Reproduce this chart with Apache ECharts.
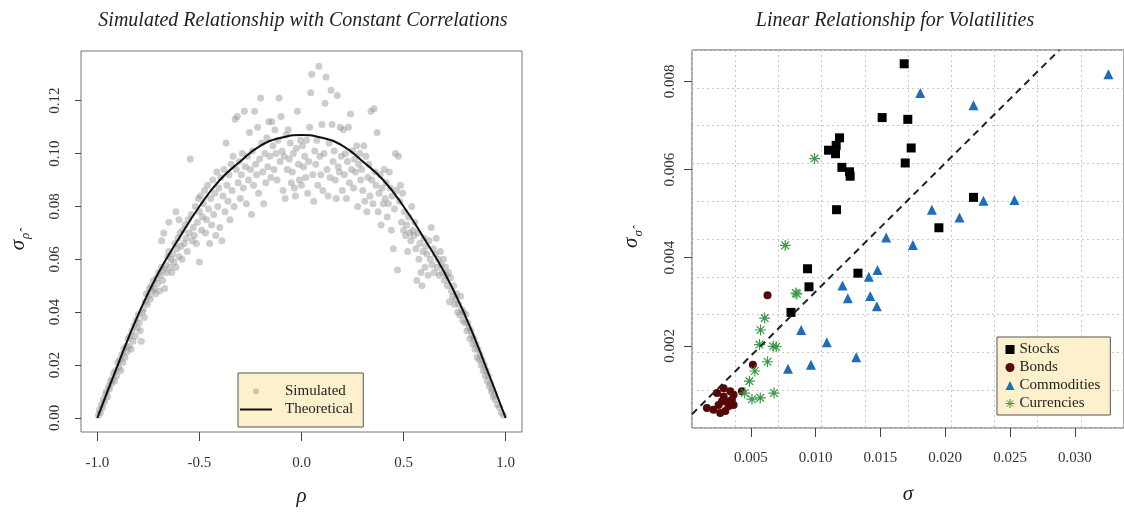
<!DOCTYPE html>
<html>
<head>
<meta charset="utf-8">
<script src="https://cdn.jsdelivr.net/npm/echarts@6/dist/echarts.min.js"></script>
<style>
  html, body { margin: 0; padding: 0; background: #fff; }
  #main { width: 1124px; height: 512px; }
</style>
</head>
<body>
<div id="main"></div>
<script>
// left panel: simulated [rho, sigma] pairs
var simulated = [
  [-0.995,0.001],[-0.99,0.003],[-0.985,0.002],[-0.98,0.005],[-0.975,0.004],[-0.97,0.007],[-0.965,0.006],[-0.96,0.009],
  [-0.955,0.010],[-0.95,0.008],[-0.945,0.012],[-0.94,0.011],[-0.935,0.014],[-0.93,0.013],[-0.925,0.015],[-0.92,0.017],
  [-0.915,0.014],[-0.91,0.018],[-0.905,0.016],[-0.9,0.021],[-0.895,0.019],[-0.89,0.022],[-0.885,0.018],[-0.88,0.024],
  [-0.875,0.021],[-0.87,0.026],[-0.865,0.023],[-0.86,0.027],[-0.855,0.025],[-0.85,0.030],[-0.845,0.027],[-0.84,0.031],
  [-0.835,0.026],[-0.83,0.033],[-0.825,0.029],[-0.82,0.035],[-0.815,0.031],[-0.81,0.037],[-0.805,0.034],[-0.8,0.039],
  [-0.795,0.036],[-0.79,0.033],[-0.785,0.029],[-0.78,0.040],
  [-0.775,0.041],[-0.77,0.038],[-0.765,0.044],[-0.76,0.047],[-0.755,0.043],[-0.75,0.046],[-0.745,0.049],[-0.74,0.045],
  [-0.735,0.050],[-0.73,0.048],[-0.725,0.052],[-0.72,0.049],[-0.715,0.047],[-0.71,0.053],[-0.705,0.051],[-0.70,0.055],
  [-0.695,0.048],[-0.69,0.054],[-0.685,0.057],[-0.68,0.052],[-0.675,0.056],[-0.67,0.049],[-0.665,0.058],[-0.66,0.055],
  [-0.655,0.061],[-0.65,0.063],[-0.645,0.057],[-0.64,0.060],[-0.635,0.055],[-0.63,0.062],[-0.625,0.059],[-0.62,0.066],
  [-0.615,0.057],[-0.61,0.064],[-0.605,0.068],[-0.60,0.061],[-0.595,0.070],[-0.59,0.065],[-0.585,0.060],[-0.58,0.071],
  [-0.575,0.066],[-0.57,0.073],[-0.565,0.068],[-0.56,0.063],[-0.555,0.075],[-0.55,0.070],[-0.545,0.098],[-0.54,0.077],
  [-0.535,0.067],[-0.53,0.072],[-0.525,0.069],[-0.52,0.080],[-0.515,0.066],[-0.51,0.074],[-0.505,0.083],[-0.50,0.059],
  [-0.50,0.078],[-0.685,0.067],[-0.675,0.070],[-0.65,0.074],[-0.615,0.078],[-0.6,0.075],
  [-0.495,0.084],[-0.49,0.071],[-0.485,0.076],[-0.48,0.081],[-0.475,0.086],[-0.47,0.070],[-0.465,0.075],[-0.46,0.088],
  [-0.455,0.079],[-0.45,0.066],[-0.445,0.083],[-0.44,0.073],[-0.435,0.090],[-0.43,0.077],[-0.425,0.085],[-0.42,0.069],
  [-0.415,0.093],[-0.41,0.080],[-0.405,0.087],[-0.40,0.072],[-0.395,0.091],[-0.39,0.067],[-0.385,0.084],[-0.38,0.094],
  [-0.375,0.078],[-0.37,0.104],[-0.365,0.088],[-0.36,0.082],[-0.355,0.092],[-0.35,0.075],[-0.345,0.096],[-0.34,0.086],
  [-0.335,0.099],[-0.33,0.080],[-0.325,0.113],[-0.32,0.094],[-0.315,0.114],[-0.31,0.089],[-0.305,0.097],[-0.30,0.083],
  [-0.295,0.092],[-0.29,0.100],[-0.285,0.087],[-0.28,0.116],[-0.275,0.095],[-0.27,0.081],[-0.265,0.099],[-0.26,0.090],
  [-0.255,0.108],[-0.25,0.094],[-0.245,0.077],[-0.24,0.101],[-0.235,0.088],[-0.23,0.116],[-0.225,0.096],[-0.22,0.092],
  [-0.215,0.110],[-0.21,0.085],[-0.205,0.098],[-0.20,0.121],
  [-0.195,0.104],[-0.19,0.093],[-0.185,0.081],[-0.18,0.100],[-0.175,0.089],[-0.17,0.106],[-0.165,0.095],[-0.16,0.112],
  [-0.155,0.099],[-0.15,0.091],[-0.145,0.112],[-0.14,0.103],[-0.135,0.094],[-0.13,0.109],[-0.125,0.100],[-0.12,0.090],
  [-0.115,0.105],[-0.11,0.121],[-0.105,0.097],[-0.10,0.114],[-0.095,0.101],[-0.09,0.086],[-0.085,0.099],[-0.08,0.083],
  [-0.075,0.107],[-0.07,0.094],[-0.065,0.109],[-0.06,0.098],[-0.055,0.104],[-0.05,0.089],[-0.045,0.093],[-0.04,0.100],
  [-0.035,0.087],[-0.03,0.084],[-0.025,0.102],[-0.02,0.116],[-0.015,0.096],[-0.01,0.090],[-0.005,0.105],[0.0,0.088],
  [0.005,0.103],[0.01,0.095],[0.015,0.099],[0.02,0.091],[0.025,0.105],[0.03,0.085],[0.035,0.097],[0.04,0.110],
  [0.045,0.123],[0.05,0.130],[0.055,0.092],[0.06,0.082],[0.065,0.101],[0.07,0.096],[0.075,0.105],[0.08,0.088],
  [0.085,0.133],[0.09,0.099],[0.095,0.092],[0.10,0.111],[0.105,0.086],[0.11,0.100],[0.115,0.119],[0.12,0.129],
  [0.125,0.094],[0.13,0.084],[0.135,0.104],[0.14,0.091],[0.145,0.124],[0.15,0.111],[0.155,0.097],[0.16,0.101],
  [0.165,0.090],[0.17,0.083],[0.175,0.122],[0.18,0.095],[0.185,0.093],[0.19,0.110],[0.195,0.099],[0.20,0.086],
  [0.205,0.109],[0.21,0.092],[0.215,0.100],[0.22,0.083],[0.225,0.097],[0.23,0.110],[0.235,0.089],[0.24,0.115],
  [0.245,0.094],[0.25,0.101],[0.255,0.087],[0.26,0.098],[0.265,0.093],[0.27,0.103],[0.275,0.080],[0.28,0.096],
  [0.285,0.100],[0.29,0.090],[0.295,0.094],[0.30,0.086],[0.305,0.103],[0.31,0.082],[0.315,0.099],[0.32,0.078],
  [0.325,0.091],[0.33,0.096],[0.335,0.084],[0.34,0.116],[0.345,0.090],[0.35,0.081],[0.355,0.117],[0.36,0.093],
  [0.365,0.088],[0.37,0.108],[0.375,0.078],[0.38,0.085],[0.385,0.092],[0.39,0.073],[0.395,0.087],[0.40,0.081],
  [0.405,0.094],[0.41,0.083],[0.415,0.089],[0.42,0.076],[0.425,0.081],[0.43,0.093],[0.435,0.087],[0.44,0.071],
  [0.445,0.084],[0.45,0.064],[0.455,0.079],[0.46,0.100],[0.465,0.086],[0.47,0.056],[0.475,0.099],[0.48,0.082],
  [0.485,0.088],[0.49,0.074],[0.495,0.085],[0.50,0.071],
  [0.505,0.078],[0.51,0.069],[0.515,0.073],[0.52,0.063],[0.525,0.076],[0.53,0.070],[0.535,0.067],[0.54,0.080],
  [0.545,0.071],[0.55,0.069],[0.555,0.074],[0.56,0.064],[0.565,0.052],[0.57,0.070],[0.575,0.060],[0.58,0.066],
  [0.585,0.055],[0.59,0.050],[0.595,0.063],[0.60,0.068],[0.605,0.057],[0.61,0.065],[0.615,0.062],[0.62,0.054],
  [0.625,0.067],[0.63,0.060],[0.635,0.072],[0.64,0.058],[0.645,0.064],[0.65,0.055],[0.655,0.062],[0.66,0.068],
  [0.665,0.057],[0.67,0.060],[0.675,0.054],[0.68,0.063],[0.685,0.058],[0.69,0.055],[0.695,0.060],[0.70,0.052],
  [0.705,0.057],[0.71,0.054],[0.715,0.050],[0.72,0.055],[0.725,0.044],[0.73,0.053],[0.735,0.048],[0.74,0.046],
  [0.745,0.050],[0.75,0.043],[0.755,0.045],[0.76,0.047],[0.765,0.040],[0.77,0.043],[0.775,0.039],[0.78,0.046],
  [0.785,0.041],[0.79,0.037],[0.795,0.040],[0.80,0.036],
  [0.805,0.039],[0.81,0.033],[0.815,0.036],[0.82,0.034],[0.825,0.030],[0.83,0.033],[0.835,0.031],[0.84,0.028],
  [0.845,0.030],[0.85,0.026],[0.855,0.028],[0.86,0.023],[0.865,0.026],[0.87,0.022],[0.875,0.024],[0.88,0.020],
  [0.885,0.022],[0.89,0.018],[0.895,0.020],[0.9,0.016],[0.905,0.018],[0.91,0.014],[0.915,0.016],[0.92,0.012],
  [0.925,0.013],[0.93,0.010],[0.935,0.011],[0.94,0.008],[0.945,0.009],[0.95,0.007],[0.96,0.005],[0.97,0.004],
  [0.98,0.002],[0.99,0.001]
];

// theoretical curve, read at steps of 0.1
var theoRho = [-1,-0.9,-0.8,-0.7,-0.6,-0.5,-0.4,-0.3,-0.2,-0.1,0,0.1,0.2,0.3,0.4,0.5,0.6,0.7,0.8,0.9,1];
var theoSigma = [0,0.020,0.039,0.055,0.068,0.080,0.090,0.097,0.103,0.106,0.107,0.106,0.103,0.097,0.090,0.080,0.068,0.055,0.039,0.020,0];

// right panel: [sigma, sigma-hat]
var stocks = [
  [0.01683,0.00840],[0.01513,0.00718],[0.01711,0.00714],[0.01184,0.00672],[0.01158,0.00655],[0.01099,0.00644],
  [0.01153,0.00636],[0.01737,0.00649],[0.01691,0.00615],[0.01202,0.00605],[0.01261,0.00595],[0.01266,0.00585],
  [0.01161,0.00509],[0.02218,0.00537],[0.01951,0.00468],[0.00937,0.00375],[0.00948,0.00334],[0.01326,0.00365],
  [0.00809,0.00276]
];
var bonds = [
  [0.00628,0.00315],[0.00515,0.00157],[0.00430,0.00097],[0.00160,0.00059],[0.00263,0.00048],[0.00250,0.00066],
  [0.00238,0.00093],[0.00289,0.00085],[0.00315,0.00074],[0.00340,0.00097],[0.00353,0.00078],[0.00327,0.00063],
  [0.00302,0.00052],[0.00366,0.00089],[0.00276,0.00074],[0.00211,0.00055],[0.00289,0.00104],[0.00366,0.00066]
];
var commodities = [
  [0.03260,0.00816],[0.01807,0.00774],[0.02218,0.00746],[0.02295,0.00529],[0.02534,0.00531],[0.01897,0.00509],
  [0.02110,0.00491],[0.01544,0.00446],[0.01750,0.00429],[0.01477,0.00372],[0.01410,0.00357],[0.01207,0.00337],
  [0.01248,0.00308],[0.01421,0.00313],[0.01472,0.00290],[0.00888,0.00236],[0.01086,0.00208],[0.01313,0.00174],
  [0.00963,0.00157],[0.00786,0.00148]
];
var currencies = [
  [0.00991,0.00625],[0.00765,0.00428],[0.00847,0.00320],[0.00855,0.00318],[0.00606,0.00263],[0.00574,0.00236],
  [0.00566,0.00203],[0.00672,0.00199],[0.00695,0.00198],[0.00628,0.00164],[0.00530,0.00143],[0.00488,0.00120],
  [0.00678,0.00093],[0.00572,0.00082],[0.00508,0.00079],[0.00452,0.00093]
];
// dashed reference line, two ends
var refLine = [[0.00045,0.00045],[0.0288,0.00871]];

var leftXTicks = [-1, -0.5, 0, 0.5, 1];
var leftYTicks = [0, 0.02, 0.04, 0.06, 0.08, 0.10, 0.12];
var rightXTicks = [0.005, 0.010, 0.015, 0.020, 0.025, 0.030];
var rightYTicks = [0.002, 0.004, 0.006, 0.008];

var serif = 'Liberation Serif';
var tickStyle = { color: '#333', fontFamily: serif, fontSize: 15 };
var titleStyle = { fontFamily: serif, fontStyle: 'italic', fontWeight: 'normal', fontSize: 20, color: '#222' };
var nameStyle = { fontFamily: serif, fontStyle: 'italic', fontSize: 21, color: '#222' };

var theoData = theoRho.map(function (r, i) { return [r, theoSigma[i]]; });

var chart = echarts.init(document.getElementById('main'));
chart.setOption({
  animation: false,
  title: [{
    text: 'Simulated Relationship with Constant Correlations',
    left: 298, top: 6, textAlign: 'center', textStyle: titleStyle
  }, {
    text: 'Linear Relationship for Volatilities',
    left: 890, top: 6, textAlign: 'center', textStyle: titleStyle
  }],
  legend: [{
    data: ['Simulated', {
      name: 'Theoretical',
      icon: 'path://M0,0L32,0L32,2L0,2Z'
    }],
    orient: 'vertical', left: 238, top: 373,
    selectedMode: false,
    backgroundColor: '#fcf1cc', borderColor: '#555', borderWidth: 1,
    padding: [11, 10, 10, 2], itemGap: 3,
    itemWidth: 32, itemHeight: 6,
    textStyle: { fontFamily: serif, fontSize: 15, color: '#222', padding: [0, 0, 0, 8] }
  }, {
    data: ['Stocks', 'Bonds', 'Commodities', {
      name: 'Currencies',
      itemStyle: { borderColor: '#3a9a45', borderWidth: 1 }
    }],
    orient: 'vertical', left: 997, top: 337,
    selectedMode: false,
    backgroundColor: '#fcf1cc', borderColor: '#555', borderWidth: 1,
    padding: [5, 10, 4, 8], itemGap: 3,
    itemWidth: 9, itemHeight: 9,
    textStyle: { fontFamily: serif, fontSize: 15, color: '#222' }
  }],
  grid: [
    { left: 81, top: 51, width: 441, height: 384, show: true, borderColor: '#777', borderWidth: 1 },
    { left: 692, top: 50, width: 434, height: 378, show: true, borderColor: '#555', borderWidth: 1 }
  ],
  xAxis: [{
    gridIndex: 0, type: 'value', min: -1.08, max: 1.08,
    axisLine: { show: false, onZero: false },
    axisTick: { show: true, customValues: leftXTicks, length: 9, lineStyle: { color: '#444' } },
    axisLabel: { customValues: leftXTicks, margin: 24, formatter: function (v) { return v.toFixed(1); }, textStyle: tickStyle },
    splitLine: { show: false },
    name: 'ρ', nameLocation: 'middle', nameGap: 54, nameTextStyle: nameStyle
  }, {
    gridIndex: 1, type: 'value', min: 0.00045, max: 0.0338,
    axisLine: { show: false, onZero: false },
    axisTick: { show: true, customValues: rightXTicks, length: 9, lineStyle: { color: '#444' } },
    axisLabel: { customValues: rightXTicks, margin: 23, formatter: function (v) { return v.toFixed(3); }, textStyle: tickStyle },
    splitLine: { show: false },
    name: 'σ', nameLocation: 'middle', nameGap: 56, nameTextStyle: nameStyle
  }, {
    // R grid(10, 10) dotted lines
    gridIndex: 1, type: 'value', min: 0, max: 10, interval: 1,
    axisLine: { show: false, onZero: false }, axisTick: { show: false }, axisLabel: { show: false },
    splitLine: { show: true, lineStyle: { color: '#c8c8c8', type: [2, 3], width: 1 } }
  }],
  yAxis: [{
    gridIndex: 0, type: 'value', min: -0.0053, max: 0.1388,
    axisLine: { show: false, onZero: false },
    axisTick: { show: true, customValues: leftYTicks, length: 6, lineStyle: { color: '#444' } },
    axisLabel: { customValues: leftYTicks, rotate: 90, margin: 18, formatter: function (v) { return v.toFixed(2); }, textStyle: tickStyle },
    splitLine: { show: false },
    name: 'σ{s|ρ̂}', nameLocation: 'middle', nameGap: 49,
    nameTextStyle: Object.assign({}, nameStyle, {
      rich: { s: { fontFamily: serif, fontStyle: 'italic', fontSize: 13, color: '#222', padding: [14, 0, 0, 1] } } })
  }, {
    gridIndex: 1, type: 'value', min: 0.000137, max: 0.008713,
    axisLine: { show: false, onZero: false },
    axisTick: { show: true, customValues: rightYTicks, length: 8, lineStyle: { color: '#444' } },
    axisLabel: { customValues: rightYTicks, rotate: 90, margin: 14, formatter: function (v) { return v.toFixed(3); }, textStyle: tickStyle },
    splitLine: { show: false },
    name: 'σ{s|σ̂}', nameLocation: 'middle', nameGap: 47,
    nameTextStyle: Object.assign({}, nameStyle, {
      rich: { s: { fontFamily: serif, fontStyle: 'italic', fontSize: 13, color: '#222', padding: [14, 0, 0, 1] } } })
  }, {
    gridIndex: 1, type: 'value', min: 0, max: 10, interval: 1,
    axisLine: { show: false, onZero: false }, axisTick: { show: false }, axisLabel: { show: false },
    splitLine: { show: true, lineStyle: { color: '#c8c8c8', type: [2, 3], width: 1 } }
  }],
  series: [{
    name: 'Simulated', type: 'scatter', xAxisIndex: 0, yAxisIndex: 0,
    data: simulated, symbol: 'circle', symbolSize: 7,
    itemStyle: { color: 'rgba(150,150,150,0.6)' }
  }, {
    name: 'Theoretical', type: 'line', xAxisIndex: 0, yAxisIndex: 0,
    data: theoData, smooth: true, symbol: 'none',
    lineStyle: { color: '#111', width: 2 }, itemStyle: { color: '#111' }
  }, {
    name: 'fit', type: 'line', xAxisIndex: 1, yAxisIndex: 1,
    data: refLine, symbol: 'none', silent: true,
    lineStyle: { color: '#222', width: 2, type: [7, 5] }
  }, {
    name: 'Stocks', type: 'scatter', xAxisIndex: 1, yAxisIndex: 1,
    data: stocks, symbol: 'rect', symbolSize: 9,
    itemStyle: { color: '#000', opacity: 1 }
  }, {
    name: 'Bonds', type: 'scatter', xAxisIndex: 1, yAxisIndex: 1,
    data: bonds, symbol: 'circle', symbolSize: 8,
    itemStyle: { color: '#560808', opacity: 1 }
  }, {
    name: 'Commodities', type: 'scatter', xAxisIndex: 1, yAxisIndex: 1,
    data: commodities, symbol: 'triangle', symbolSize: 10,
    itemStyle: { color: '#1f6db4', opacity: 1 }
  }, {
    name: 'Currencies', type: 'scatter', xAxisIndex: 1, yAxisIndex: 1,
    data: currencies,
    symbol: 'path://M5,0L5,10M0,5L10,5M1.5,1.5L8.5,8.5M8.5,1.5L1.5,8.5', symbolSize: 11,
    itemStyle: { color: '#3a9a45', borderColor: '#3a9a45', borderWidth: 1.2, opacity: 1 }
  }]
});
</script>
</body>
</html>
